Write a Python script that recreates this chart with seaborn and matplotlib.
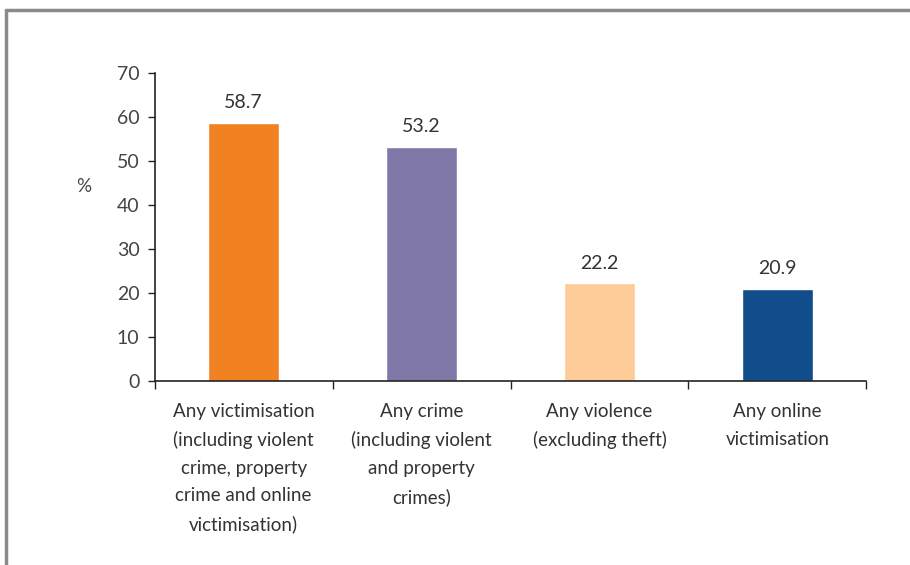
import matplotlib.pyplot as plt
from matplotlib.lines import Line2D
from matplotlib.ticker import FixedLocator
import seaborn as sns
import pandas as pd

categories = [
    "Any victimisation\n(including violent\ncrime, property\ncrime and online\nvictimisation)",
    "Any crime\n(including violent\nand property\ncrimes)",
    "Any violence\n(excluding theft)",
    "Any online\nvictimisation",
]
values = [58.7, 53.2, 22.2, 20.9]
colors = ["#F28122", "#8079A7", "#FDCC98", "#114C8B"]
yticks = [0, 10, 20, 30, 40, 50, 60, 70]

sns.set_style("white")
plt.rcParams["font.family"] = ["Lato", "DejaVu Sans"]

df = pd.DataFrame({"cat": categories, "val": values})

fig = plt.figure(figsize=(9.1, 5.65), dpi=100)
ax = fig.add_axes([0.170, 0.326, 0.782, 0.545])
sns.barplot(data=df, x="cat", y="val", hue="cat", palette=colors,
            width=0.4, saturation=1, legend=False, ax=ax)

ax.set_xlim(-0.5, 3.5)
ax.set_ylim(0, 70)
ax.set_yticks(yticks)
ax.set_xlabel("")
ax.set_ylabel("%", rotation=0, fontsize=13.5, color="#444444", va="center")
ax.yaxis.set_label_coords(-0.10, 0.63)

for i, v in enumerate(values):
    ax.text(i, v + 2.6, f"{v:.1f}", ha="center", va="bottom",
            fontsize=14, color="#333333")

sns.despine(ax=ax)
for s in ["left", "bottom"]:
    ax.spines[s].set_color("#222222")
    ax.spines[s].set_linewidth(1.2)

ax.tick_params(axis="y", direction="out", length=5, width=1, color="#222222",
               labelsize=14, labelcolor="#444444", left=True, pad=6)
ax.tick_params(axis="x", which="major", length=0, labelsize=13.5,
               labelcolor="#333333", pad=16)
ax.xaxis.set_minor_locator(FixedLocator([-0.5, 0.5, 1.5, 2.5, 3.5]))
ax.tick_params(axis="x", which="minor", direction="out", length=6, width=1,
               color="#222222", bottom=True)
for lbl in ax.get_xticklabels():
    lbl.set_linespacing(1.75)
    lbl.set_ha("center")

# frame around the picture (left and top edges)
fig.add_artist(Line2D([0.0066, 0.0066], [0.0, 0.982], color="#8a8a8a", lw=2.5,
                      transform=fig.transFigure))
fig.add_artist(Line2D([0.0066, 1.0], [0.982, 0.982], color="#8a8a8a", lw=2.5,
                      transform=fig.transFigure))

fig.savefig("out.png", dpi=100, facecolor="white")
